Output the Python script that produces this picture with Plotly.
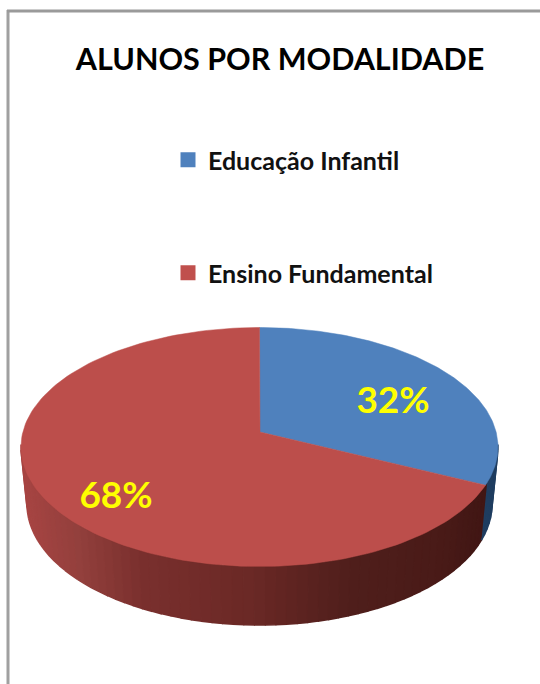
import numpy as np
import plotly.graph_objects as go

categories = ["Educação Infantil", "Ensino Fundamental"]
values = [32, 68]
colors = ["#4f81bd", "#c0504d"]
title_text = "ALUNOS POR MODALIDADE"

W, H = 540, 684
CX, CY, RX, RY = 259.5, 447.0, 238.5, 119.5
AX, AY = 260.0, 432.0
DEPTH = 57.0
RX_BOTTOM, RY_BOTTOM = 232.5, 121.0
# wall shade by horizontal fraction across the pie (left to right)
wall_stops = [(0.0, "#a84543"), (0.12, "#93403d"), (0.25, "#7a302e"), (0.48, "#6b2926"),
              (0.69, "#501f1c"), (0.88, "#4a1b18"), (1.0, "#3f1513")]
blue_wall = "#1f3d60"


def hex2rgb(h):
    return np.array([int(h[i:i + 2], 16) for i in (1, 3, 5)], float)


def shade(f):
    fs = [s[0] for s in wall_stops]
    cs = np.array([hex2rgb(s[1]) for s in wall_stops])
    return "rgb(%d,%d,%d)" % tuple(np.interp(f, fs, cs[:, i]) for i in range(3))


def rim_angle(theta):
    """Parameter on the tilted rim hit by the ray from the off-centre apex."""
    dx, dy = RX * np.sin(theta), -RY * np.cos(theta)
    ox, oy = (AX - CX) / RX, (AY - CY) / RY
    ux, uy = dx / RX, dy / RY
    a = ux * ux + uy * uy
    b = 2 * (ox * ux + oy * uy)
    c = ox * ox + oy * oy - 1
    t = (-b + np.sqrt(b * b - 4 * a * c)) / (2 * a)
    return np.arctan2(ox + t * ux, -(oy + t * uy)) % (2 * np.pi)


def rim(t):
    return CX + RX * np.sin(t), CY - RY * np.cos(t)


def rim_bottom(t):
    return CX + RX_BOTTOM * np.sin(t), CY + DEPTH - RY_BOTTOM * np.cos(t)


total = sum(values)
split = rim_angle(2 * np.pi * values[0] / total)

fig = go.Figure()

# side wall, drawn as narrow bands so that it can be shaded
vis_start, vis_end = np.pi / 2, 3 * np.pi / 2
edges = np.linspace(vis_end + 0.02, vis_start - 0.02, 70)
for a, b in zip(edges[:-1], edges[1:]):
    t = np.linspace(a, b, 4)
    x, y = rim(t)
    xb, yb = rim_bottom(t)
    px = np.r_[x, xb[::-1]]
    py = np.r_[y, yb[::-1]]
    mid = (a + b) / 2
    col = blue_wall if mid < split else shade((rim(mid)[0] - (CX - RX)) / (2 * RX))
    fig.add_trace(go.Scatter(x=px, y=py, mode="lines", fill="toself", fillcolor=col,
                             line=dict(color=col, width=1.6), hoverinfo="skip", showlegend=False))

# top faces
for name, col, a, b in [(categories[0], colors[0], 0, split),
                        (categories[1], "#bc4e4b", split, 2 * np.pi)]:
    x, y = rim(np.linspace(a, b, 160))
    fig.add_trace(go.Scatter(x=np.r_[AX, x, AX], y=np.r_[AY, y, AY], mode="lines", fill="toself",
                             fillcolor=col, line=dict(color=col, width=0.5),
                             hoverinfo="skip", showlegend=False))

# percentage labels
LABEL_X = [393, 116]
LABEL_Y = [404, 499]
fig.add_trace(go.Scatter(x=LABEL_X, y=LABEL_Y, mode="text", text=[f"{v}%" for v in values],
                         textfont=dict(family="Lato", size=37, color="#ffff00", weight="bold"),
                         hoverinfo="skip", showlegend=False))

# legends
for i, (name, col) in enumerate(zip(categories, colors)):
    fig.add_trace(go.Scatter(x=[None], y=[None], mode="markers", name=name,
                             marker=dict(symbol="square", size=15, color=col),
                             legend="legend" if i == 0 else "legend2"))

legend_common = dict(xanchor="left", yanchor="middle", bgcolor="rgba(0,0,0,0)",
                     font=dict(family="Lato", size=25, color="#111111", weight="bold"),
                     itemsizing="trace", borderwidth=0, tracegroupgap=0)

fig.update_layout(
    width=W, height=H, margin=dict(l=0, r=0, t=0, b=0),
    paper_bgcolor="white", plot_bgcolor="white",
    title=dict(text=title_text, x=280 / W, xanchor="center", y=1 - 59 / H, yanchor="middle",
               font=dict(family="Lato", size=30.5, color="#000000", weight="bold")),
    xaxis=dict(range=[0, W], visible=False, fixedrange=True),
    yaxis=dict(range=[H, 0], visible=False, fixedrange=True),
    legend=dict(x=168 / W, y=1 - 160 / H, **legend_common),
    legend2=dict(x=168 / W, y=1 - 273 / H, **legend_common),
    shapes=[
        dict(type="line", x0=8, x1=8, y0=10, y1=H, line=dict(color="#a0a0a0", width=3)),
        dict(type="line", x0=7, x1=W, y0=11, y1=11, line=dict(color="#9a9a9a", width=3)),
    ],
)

fig.write_html("out.html", config=dict(displayModeBar=False),
               post_script="document.body.style.margin='0';")
